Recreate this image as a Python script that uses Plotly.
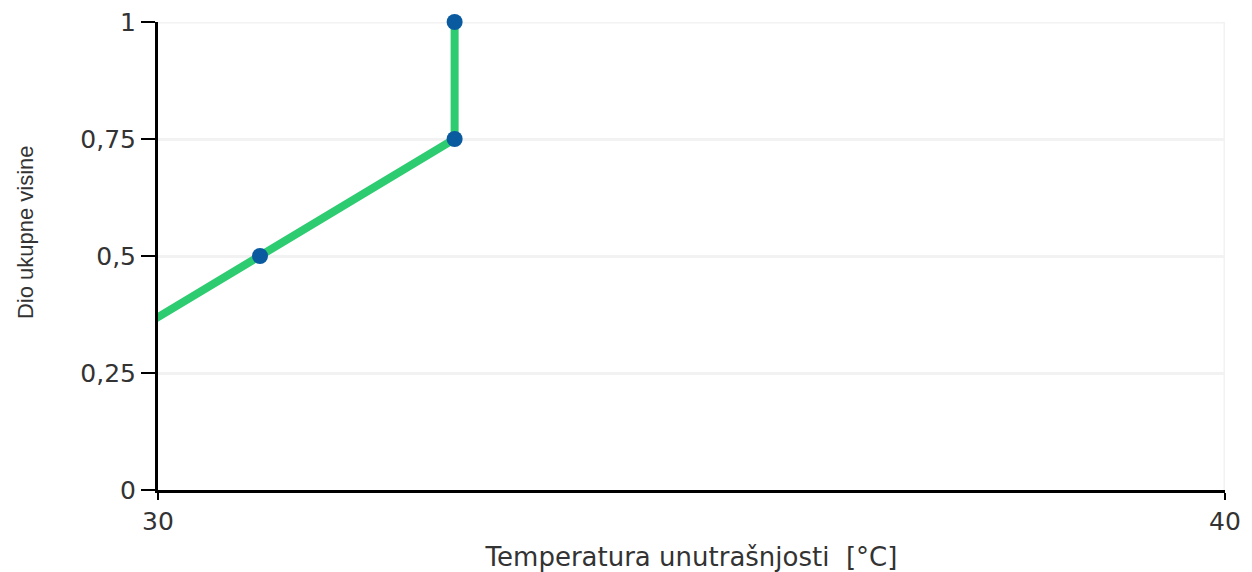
import plotly.graph_objects as go

# Data
temperature = [27.3, 29.13, 30.956, 32.78, 32.78]
height_fraction = [0.0, 0.25, 0.5, 0.75, 1.0]
x_ticks = [30, 40]
y_ticks = [0, 0.25, 0.5, 0.75, 1]
x_title = "Temperatura unutrašnjosti \u00a0[°C]"
y_title = "Dio ukupne visine"

x_range = [30, 40]
y_range = [0, 1]

# markers only for points inside the visible window
mx = [x for x, y in zip(temperature, height_fraction) if x_range[0] <= x <= x_range[1]]
my = [y for x, y in zip(temperature, height_fraction) if x_range[0] <= x <= x_range[1]]

fig = go.Figure()
fig.add_trace(go.Scatter(
    x=temperature, y=height_fraction, mode="lines",
    line=dict(color="#2ecc71", width=8),
    hoverinfo="skip", showlegend=False,
))
fig.add_trace(go.Scatter(
    x=mx, y=my, mode="markers",
    marker=dict(color="#0a5aa0", size=16),
    cliponaxis=False, showlegend=False,
))

tick_font = dict(family="DejaVu Sans", size=25, color="#333333")
grid_col = "#f2f2f2"

# gridlines at the range ends (plotly hides them at plot edges)
shapes = [
    dict(type="line", xref="paper", yref="y", x0=0, x1=1, y0=y_range[1], y1=y_range[1],
         line=dict(color=grid_col, width=3), layer="below"),
    dict(type="line", xref="x", yref="paper", x0=x_range[1], x1=x_range[1], y0=0, y1=1,
         line=dict(color=grid_col, width=3), layer="below"),
]

fig.update_layout(
    width=1244, height=564,
    margin=dict(l=150, r=27, t=14, b=82),
    paper_bgcolor="white", plot_bgcolor="white",
    separators=",.",
    showlegend=False,
    shapes=shapes,
    xaxis=dict(
        range=x_range, tickvals=x_ticks, ticktext=[str(v) for v in x_ticks],
        showline=True, linecolor="black", linewidth=3,
        ticks="outside", ticklen=7, tickwidth=2, tickcolor="black",
        showgrid=True, gridcolor=grid_col, gridwidth=3,
        zeroline=False, tickfont=tick_font, automargin=False,
        ticklabeloverflow="allow",
        title=dict(text=x_title, font=dict(family="DejaVu Sans", size=26, color="#333333"), standoff=30),
    ),
    yaxis=dict(
        range=y_range, tickvals=y_ticks,
        showline=True, linecolor="black", linewidth=3,
        ticks="outside", ticklen=14, tickwidth=2, tickcolor="black",
        showgrid=True, gridcolor=grid_col, gridwidth=3,
        zeroline=False, tickfont=tick_font, automargin=False,
        ticklabeloverflow="allow",
    ),
    annotations=[dict(
        text=y_title, textangle=-90, showarrow=False,
        xref="paper", yref="paper", x=-0.1247, y=0.551,
        xanchor="center", yanchor="middle",
        font=dict(family="Liberation Sans", size=22, color="#333333"),
    )],
)

fig.write_html("out.html", config={"displayModeBar": False})
